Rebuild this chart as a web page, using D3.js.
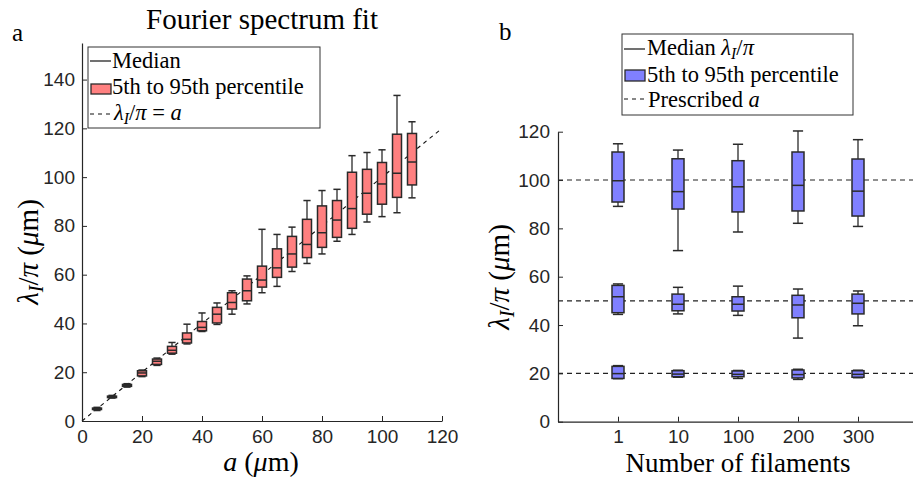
<!DOCTYPE html>
<html>
<head>
<meta charset="utf-8">
<script src="https://cdn.jsdelivr.net/npm/d3@7"></script>
<style>
  body { margin: 0; background: #fff; }
  svg { display: block; }
</style>
</head>
<body>
<script>
// Panel a: prescribed a values and box stats [whiskerLow, boxLow, median, boxHigh, whiskerHigh]
const fourierA = [5, 10, 15, 20, 25, 30, 35, 40, 45, 50, 55, 60, 65, 70, 75, 80, 85, 90, 95, 100, 105, 110];
const fourierStats = [
    [4.3, 4.7, 5.0, 5.3, 5.6],
    [9.4, 9.6, 9.9, 10.2, 10.5],
    [13.9, 14.2, 14.6, 15.0, 15.3],
    [18.2, 18.5, 19.7, 20.6, 20.9],
    [22.8, 23.2, 24.5, 25.4, 25.8],
    [27.4, 27.8, 29.0, 30.6, 32.2],
    [31.6, 32.0, 33.5, 36.1, 39.7],
    [36.7, 37.0, 38.4, 40.8, 44.3],
    [39.6, 40.2, 43.8, 46.6, 48.4],
    [43.8, 45.9, 48.6, 52.6, 53.4],
    [48.0, 49.3, 53.4, 58.2, 59.5],
    [52.6, 54.9, 57.8, 63.5, 78.6],
    [55.2, 58.9, 62.8, 70.6, 76.5],
    [61.3, 63.1, 68.5, 75.7, 79.5],
    [64.6, 67.0, 72.4, 82.7, 90.4],
    [68.5, 71.2, 77.2, 88.2, 94.5],
    [73.7, 75.3, 82.4, 90.4, 95.0],
    [76.5, 79.0, 87.1, 102.0, 108.8],
    [81.6, 84.8, 93.4, 103.2, 110.1],
    [83.8, 88.9, 97.2, 106.0, 111.2],
    [85.4, 91.7, 101.6, 117.6, 133.5],
    [91.5, 96.8, 106.2, 117.9, 122.7]
];
const fourierYTicks = [0, 20, 40, 60, 80, 100, 120, 140];
const fourierXTicks = [0, 20, 40, 60, 80, 100, 120];

// Panel b: number of filaments, three prescribed a values
const filamentLabels = ["1", "10", "100", "200", "300"];
const prescribedA = [20, 50, 100];
const filamentStats20 = [
    [17.8, 17.9, 19.9, 22.9, 23.2],
    [18.4, 18.6, 19.7, 21.1, 21.3],
    [17.9, 18.6, 19.6, 21.0, 21.2],
    [17.5, 18.1, 19.5, 21.4, 21.7],
    [18.2, 18.4, 19.6, 21.1, 21.3]
];
const filamentStats50 = [
    [44.4, 45.1, 51.7, 56.4, 57.0],
    [44.6, 45.9, 48.6, 52.8, 55.6],
    [44.0, 45.8, 48.6, 51.7, 56.1],
    [34.6, 43.0, 48.3, 52.3, 54.9],
    [39.7, 44.6, 49.0, 52.8, 54.1]
];
const filamentStats100 = [
    [89.1, 90.9, 99.7, 111.6, 115.0],
    [70.8, 88.0, 95.2, 108.8, 112.4],
    [78.5, 86.8, 97.2, 108.0, 114.8],
    [82.1, 87.2, 97.8, 111.6, 120.3],
    [80.8, 85.1, 95.4, 108.7, 116.7]
];
const filamentYTicks = [0, 20, 40, 60, 80, 100, 120];

const axisColor = "#262626";
const boxStroke = "#2a2a2a";
const serif = "'Liberation Serif', 'Times New Roman', serif";
const sans = "'Liberation Sans', Arial, sans-serif";
const legendSize = 22.5;

const svg = d3.select("body").append("svg")
    .attr("width", 913)
    .attr("height", 479);

// math label: lambda_I / pi (mu m)
function lambdaLabel(text, size, withUnit) {
    text.append("tspan").attr("font-style", "italic").text("λ");
    text.append("tspan").attr("font-style", "italic").attr("font-size", size * 0.7)
        .attr("dy", size * 0.16).text("I");
    text.append("tspan").attr("dy", -size * 0.16).text("/");
    text.append("tspan").attr("font-style", "italic").text("π");
    if (withUnit) {
        text.append("tspan").text(" (");
        text.append("tspan").attr("font-style", "italic").text("μ");
        text.append("tspan").text("m)");
    }
}

function styleAxis(g) {
    g.selectAll("text")
        .attr("font-family", sans)
        .attr("font-size", 19)
        .attr("fill", axisColor);
    g.selectAll("line").attr("stroke", axisColor);
    g.select(".domain").attr("stroke", axisColor).attr("stroke-width", 1.2);
}

function drawBox(g, cx, halfW, capW, s, y, fill) {
    const [wl, bl, md, bh, wh] = s;
    g.append("line").attr("x1", cx).attr("x2", cx).attr("y1", y(wh)).attr("y2", y(bh))
        .attr("stroke", boxStroke).attr("stroke-width", 1.3);
    g.append("line").attr("x1", cx).attr("x2", cx).attr("y1", y(bl)).attr("y2", y(wl))
        .attr("stroke", boxStroke).attr("stroke-width", 1.3);
    [wl, wh].forEach(v => {
        g.append("line").attr("x1", cx - capW).attr("x2", cx + capW).attr("y1", y(v)).attr("y2", y(v))
            .attr("stroke", boxStroke).attr("stroke-width", 1.5);
    });
    g.append("rect")
        .attr("x", cx - halfW).attr("width", 2 * halfW)
        .attr("y", y(bh)).attr("height", Math.max(y(bl) - y(bh), 0.5))
        .attr("fill", fill).attr("stroke", boxStroke).attr("stroke-width", 1.5);
    g.append("line").attr("x1", cx - halfW).attr("x2", cx + halfW).attr("y1", y(md)).attr("y2", y(md))
        .attr("stroke", boxStroke).attr("stroke-width", 1.5);
}

// ---------------- Panel a ----------------
const xA = d3.scaleLinear().domain([0, 120]).range([82, 442]);
const yA = d3.scaleLinear().domain([0, 155]).range([421, 43]);

const gA = svg.append("g");

gA.append("line")
    .attr("x1", xA(0)).attr("y1", yA(0))
    .attr("x2", xA(120)).attr("y2", yA(120))
    .attr("stroke", "#111").attr("stroke-width", 1.1)
    .attr("stroke-dasharray", "4,4");

fourierA.forEach((a, i) => {
    drawBox(gA, xA(a), xA(1.5) - xA(0), xA(1.2) - xA(0), fourierStats[i], yA, "#ff8080");
});

gA.append("g")
    .attr("transform", `translate(0, ${yA(0)})`)
    .call(d3.axisBottom(xA).tickValues(fourierXTicks).tickSizeInner(-5).tickSizeOuter(0).tickPadding(9))
    .call(styleAxis);

gA.append("g")
    .attr("transform", `translate(${xA(0)}, 0)`)
    .call(d3.axisLeft(yA).tickValues(fourierYTicks).tickSizeInner(-5).tickSizeOuter(0).tickPadding(7))
    .call(styleAxis);

gA.append("text")
    .attr("x", 262).attr("y", 29)
    .attr("text-anchor", "middle")
    .attr("font-family", serif).attr("font-size", 29)
    .text("Fourier spectrum fit");

gA.append("text")
    .attr("x", 12).attr("y", 41)
    .attr("font-family", serif).attr("font-size", 25)
    .text("a");

const xLabelA = gA.append("text")
    .attr("x", 261).attr("y", 471)
    .attr("text-anchor", "middle")
    .attr("font-family", serif).attr("font-size", 28);
xLabelA.append("tspan").attr("font-style", "italic").text("a");
xLabelA.append("tspan").text(" (");
xLabelA.append("tspan").attr("font-style", "italic").text("μ");
xLabelA.append("tspan").text("m)");

const yLabelA = gA.append("text")
    .attr("transform", "translate(38, 252) rotate(-90)")
    .attr("text-anchor", "middle")
    .attr("font-family", serif).attr("font-size", 29);
lambdaLabel(yLabelA, 29, true);

// legend a
const legA = gA.append("g");
legA.append("rect")
    .attr("x", 88).attr("y", 47).attr("width", 232).attr("height", 81)
    .attr("fill", "#fff").attr("stroke", "#333").attr("stroke-width", 1);
legA.append("line").attr("x1", 90).attr("x2", 111).attr("y1", 61).attr("y2", 61)
    .attr("stroke", "#111").attr("stroke-width", 1.2);
legA.append("rect").attr("x", 91).attr("y", 84).attr("width", 20).attr("height", 10)
    .attr("fill", "#ff8080").attr("stroke", boxStroke).attr("stroke-width", 1.3);
legA.append("line").attr("x1", 90).attr("x2", 111).attr("y1", 114).attr("y2", 114)
    .attr("stroke", "#111").attr("stroke-width", 1.2).attr("stroke-dasharray", "4,4");
legA.append("text").attr("x", 112).attr("y", 68)
    .attr("font-family", serif).attr("font-size", legendSize).text("Median");
legA.append("text").attr("x", 112).attr("y", 94)
    .attr("font-family", serif).attr("font-size", legendSize).text("5th to 95th percentile");
const legAText3 = legA.append("text").attr("x", 114).attr("y", 120)
    .attr("font-family", serif).attr("font-size", legendSize);
lambdaLabel(legAText3, legendSize, false);
legAText3.append("tspan").text(" = ");
legAText3.append("tspan").attr("font-style", "italic").text("a");

// ---------------- Panel b ----------------
const xB = d3.scaleLinear().domain([0, 6]).range([558, 918]);
const yB = d3.scaleLinear().domain([0, 120]).range([421.7, 131.7]);

const gB = svg.append("g");

prescribedA.forEach(v => {
    gB.append("line")
        .attr("x1", xB(0)).attr("x2", xB(6))
        .attr("y1", yB(v)).attr("y2", yB(v))
        .attr("stroke", "#222").attr("stroke-width", 1.1)
        .attr("stroke-dasharray", "5,4");
});

[filamentStats20, filamentStats50, filamentStats100].forEach(stats => {
    stats.forEach((s, i) => {
        drawBox(gB, xB(i + 1), xB(0.1) - xB(0), xB(0.085) - xB(0), s, yB, "#8080ff");
    });
});

gB.append("g")
    .attr("transform", `translate(0, ${yB(0)})`)
    .call(d3.axisBottom(xB).tickValues([1, 2, 3, 4, 5])
        .tickFormat((d, i) => filamentLabels[i])
        .tickSizeInner(-5).tickSizeOuter(0).tickPadding(8))
    .call(styleAxis);

gB.append("g")
    .attr("transform", `translate(${xB(0)}, 0)`)
    .call(d3.axisLeft(yB).tickValues(filamentYTicks).tickSizeInner(-5).tickSizeOuter(0).tickPadding(8))
    .call(styleAxis);

gB.append("text")
    .attr("x", 499).attr("y", 40)
    .attr("font-family", serif).attr("font-size", 25)
    .text("b");

gB.append("text")
    .attr("x", 738).attr("y", 472)
    .attr("text-anchor", "middle")
    .attr("font-family", serif).attr("font-size", 27)
    .text("Number of filaments");

const yLabelB = gB.append("text")
    .attr("transform", "translate(509, 277) rotate(-90)")
    .attr("text-anchor", "middle")
    .attr("font-family", serif).attr("font-size", 29);
lambdaLabel(yLabelB, 29, true);

// legend b
const legB = gB.append("g");
legB.append("rect")
    .attr("x", 622).attr("y", 34).attr("width", 231).attr("height", 81)
    .attr("fill", "#fff").attr("stroke", "#333").attr("stroke-width", 1);
legB.append("line").attr("x1", 624).attr("x2", 645).attr("y1", 49).attr("y2", 49)
    .attr("stroke", "#111").attr("stroke-width", 1.2);
legB.append("rect").attr("x", 625).attr("y", 70).attr("width", 20).attr("height", 11)
    .attr("fill", "#8080ff").attr("stroke", boxStroke).attr("stroke-width", 1.3);
legB.append("line").attr("x1", 624).attr("x2", 645).attr("y1", 99).attr("y2", 99)
    .attr("stroke", "#111").attr("stroke-width", 1.2).attr("stroke-dasharray", "4,4");
const legBText1 = legB.append("text").attr("x", 647).attr("y", 55)
    .attr("font-family", serif).attr("font-size", legendSize);
legBText1.append("tspan").text("Median ");
lambdaLabel(legBText1, legendSize, false);
legB.append("text").attr("x", 647).attr("y", 82)
    .attr("font-family", serif).attr("font-size", legendSize).text("5th to 95th percentile");
const legBText3 = legB.append("text").attr("x", 648).attr("y", 107)
    .attr("font-family", serif).attr("font-size", legendSize);
legBText3.append("tspan").text("Prescribed ");
legBText3.append("tspan").attr("font-style", "italic").text("a");
</script>
</body>
</html>
